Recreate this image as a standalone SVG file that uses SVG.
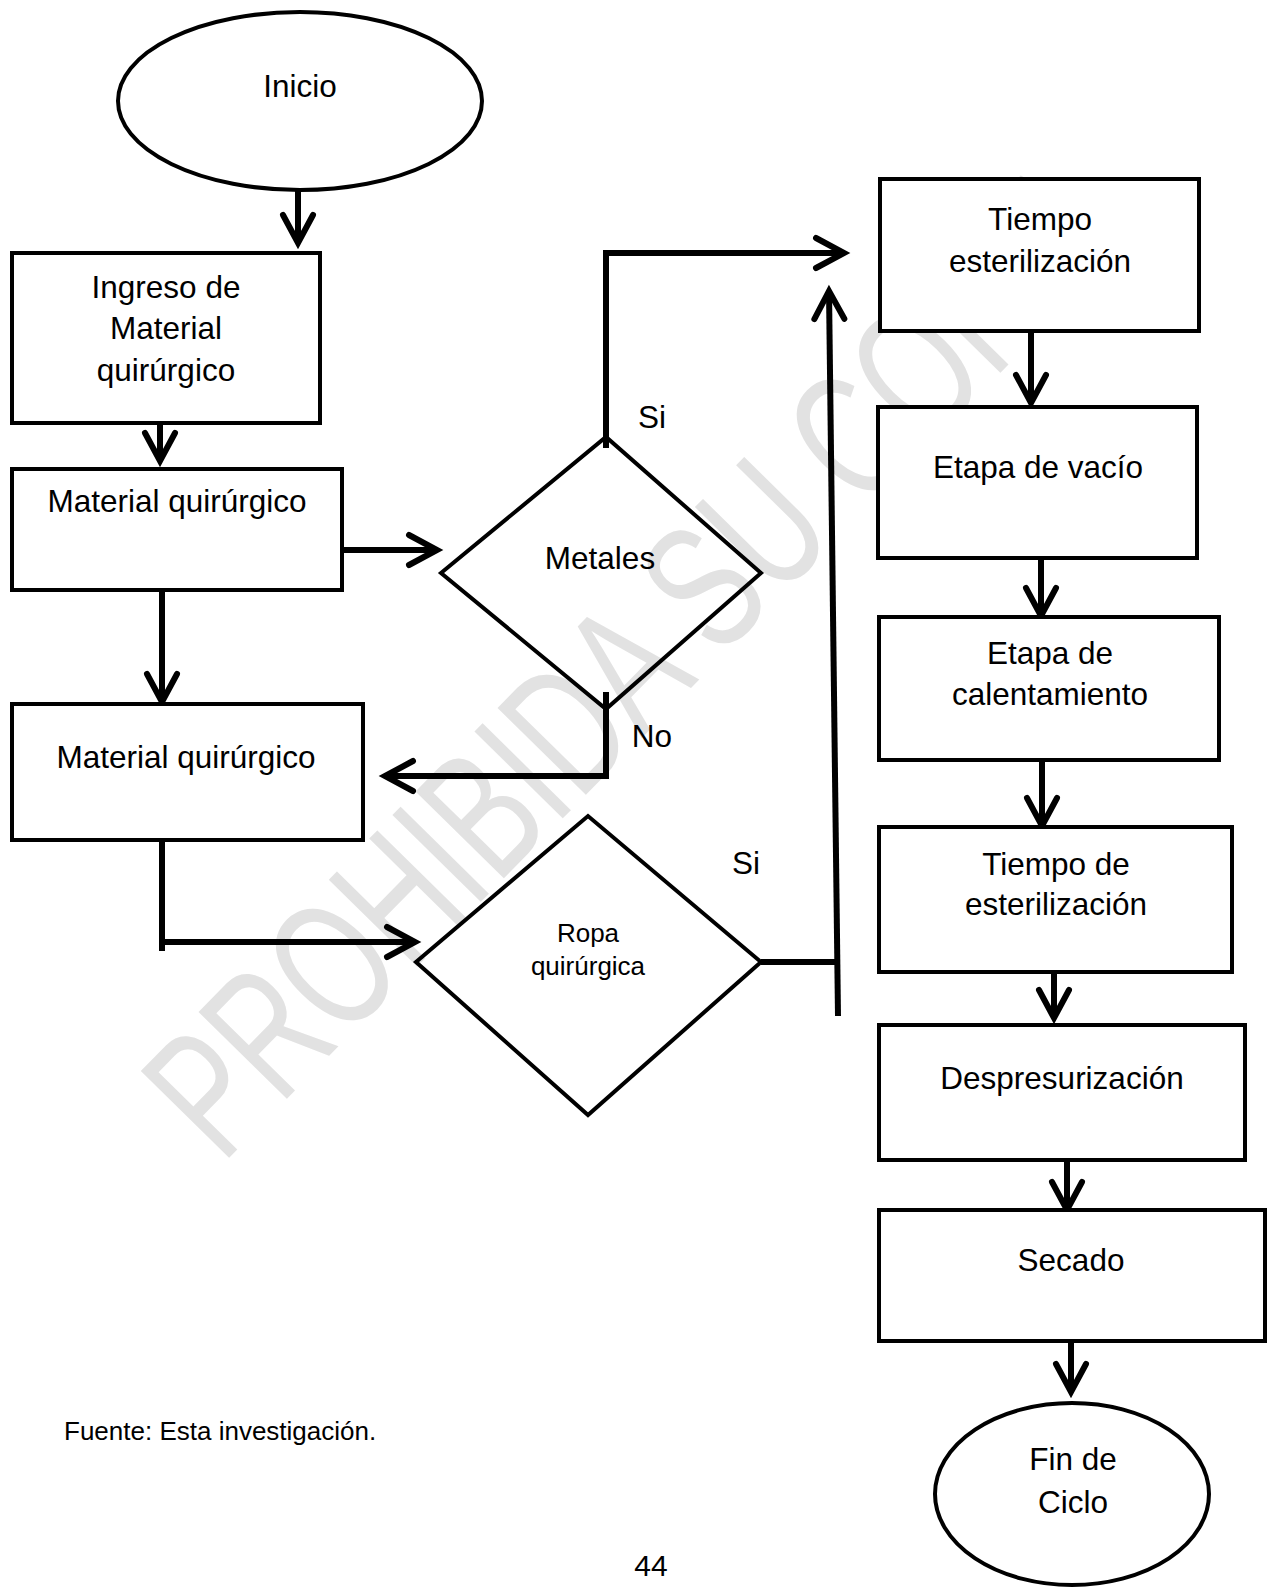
<svg xmlns="http://www.w3.org/2000/svg" width="1271" height="1588" viewBox="0 0 1271 1588">
<defs>
<style>
.shape{fill:#fff;stroke:#000;stroke-width:4;stroke-linejoin:miter}
.dia{fill:none;stroke:#000;stroke-width:4}
.con{fill:none;stroke:#000;stroke-width:6;stroke-linecap:butt}
.t{font-family:"Liberation Sans",Arial,sans-serif;font-size:31.5px;fill:#000;text-anchor:middle}
.s{font-size:26px}
.l{text-anchor:start}
.wm{font-family:"Liberation Sans",Arial,sans-serif;font-size:180px;fill:#e2e2e2}
</style>
<marker id="arr" markerUnits="userSpaceOnUse" markerWidth="80" markerHeight="80" viewBox="-40 -40 80 80" refX="0" refY="0" orient="auto" overflow="visible">
<path d="M-28 -15 L0 0 L-28 15" fill="none" stroke="#000" stroke-width="6" stroke-linecap="round" stroke-linejoin="miter"/>
</marker>
</defs>
<rect width="1271" height="1588" fill="#fff"/>
<g id="watermark">
<text class="wm" x="222" y="1165" transform="rotate(-45.5 222 1165)" textLength="1300" lengthAdjust="spacingAndGlyphs">PROHIBIDA SU COPIA</text>
</g>
<g id="connectors">
<path class="con" d="M298 184 V243" marker-end="url(#arr)"/>
<path class="con" d="M160 410 V461" marker-end="url(#arr)"/>
<path class="con" d="M342 550 H437" marker-end="url(#arr)"/>
<path class="con" d="M606 448 V253 H844" marker-end="url(#arr)"/>
<path class="con" d="M606 692 V776 H385" marker-end="url(#arr)"/>
<path class="con" d="M162 587 V702" marker-end="url(#arr)"/>
<path class="con" d="M162 828 V951"/>
<path class="con" d="M162 942 H415" marker-end="url(#arr)"/>
<path class="con" d="M761 962 H838"/>
<path class="con" d="M838 1016 L829 291" marker-end="url(#arr)"/>
<path class="con" d="M1031 322 V403" marker-end="url(#arr)"/>
<path class="con" d="M1041 549 V616" marker-end="url(#arr)"/>
<path class="con" d="M1042 749 V826" marker-end="url(#arr)"/>
<path class="con" d="M1054 962 V1018" marker-end="url(#arr)"/>
<path class="con" d="M1067 1149 V1210" marker-end="url(#arr)"/>
<path class="con" d="M1071 1343 V1392" marker-end="url(#arr)"/>
</g>
<g id="n-inicio">
<ellipse class="shape" cx="300" cy="101" rx="182" ry="89"/>
<text class="t" x="300" y="97">Inicio</text>
</g>
<g id="n-ingreso">
<rect class="shape" x="12" y="253" width="308" height="170"/>
<text class="t" x="166" y="298">Ingreso de</text>
<text class="t" x="166" y="339">Material</text>
<text class="t" x="166" y="381">quirúrgico</text>
</g>
<g id="n-material1">
<rect class="shape" x="12" y="469" width="330" height="121"/>
<text class="t" x="177" y="512">Material quirúrgico</text>
</g>
<g id="n-metales">
<polygon class="dia" points="441,573 606,437 761,573 606,709"/>
<text class="t" x="600" y="569">Metales</text>
<text class="t" x="652" y="428">Si</text>
<text class="t" x="652" y="747">No</text>
</g>
<g id="n-material2">
<rect class="shape" x="12" y="704" width="351" height="136"/>
<text class="t" x="186" y="768">Material quirúrgico</text>
</g>
<g id="n-ropa">
<polygon class="dia" points="416,962 588,816 761,962 588,1115"/>
<text class="t s" x="588" y="942">Ropa</text>
<text class="t s" x="588" y="975">quirúrgica</text>
<text class="t" x="746" y="874">Si</text>
</g>
<g id="n-tiempo">
<rect class="shape" x="880" y="179" width="319" height="152"/>
<text class="t" x="1040" y="230">Tiempo</text>
<text class="t" x="1040" y="272">esterilización</text>
</g>
<g id="n-vacio">
<rect class="shape" x="878" y="407" width="319" height="151"/>
<text class="t" x="1038" y="478">Etapa de vacío</text>
</g>
<g id="n-calent">
<rect class="shape" x="879" y="617" width="340" height="143"/>
<text class="t" x="1050" y="664">Etapa de</text>
<text class="t" x="1050" y="705">calentamiento</text>
</g>
<g id="n-tde">
<rect class="shape" x="879" y="827" width="353" height="145"/>
<text class="t" x="1056" y="875">Tiempo de</text>
<text class="t" x="1056" y="915">esterilización</text>
</g>
<g id="n-despres">
<rect class="shape" x="879" y="1025" width="366" height="135"/>
<text class="t" x="1062" y="1089">Despresurización</text>
</g>
<g id="n-secado">
<rect class="shape" x="879" y="1210" width="386" height="131"/>
<text class="t" x="1071" y="1271">Secado</text>
</g>
<g id="n-fin">
<ellipse class="shape" cx="1072" cy="1494" rx="137" ry="91"/>
<text class="t" x="1073" y="1470">Fin de</text>
<text class="t" x="1073" y="1513">Ciclo</text>
</g>
<g id="footer">
<text class="t s l" x="64" y="1440">Fuente: Esta investigación.</text>
<text class="t" x="651" y="1576" style="font-size:30px">44</text>
</g>
</svg>
